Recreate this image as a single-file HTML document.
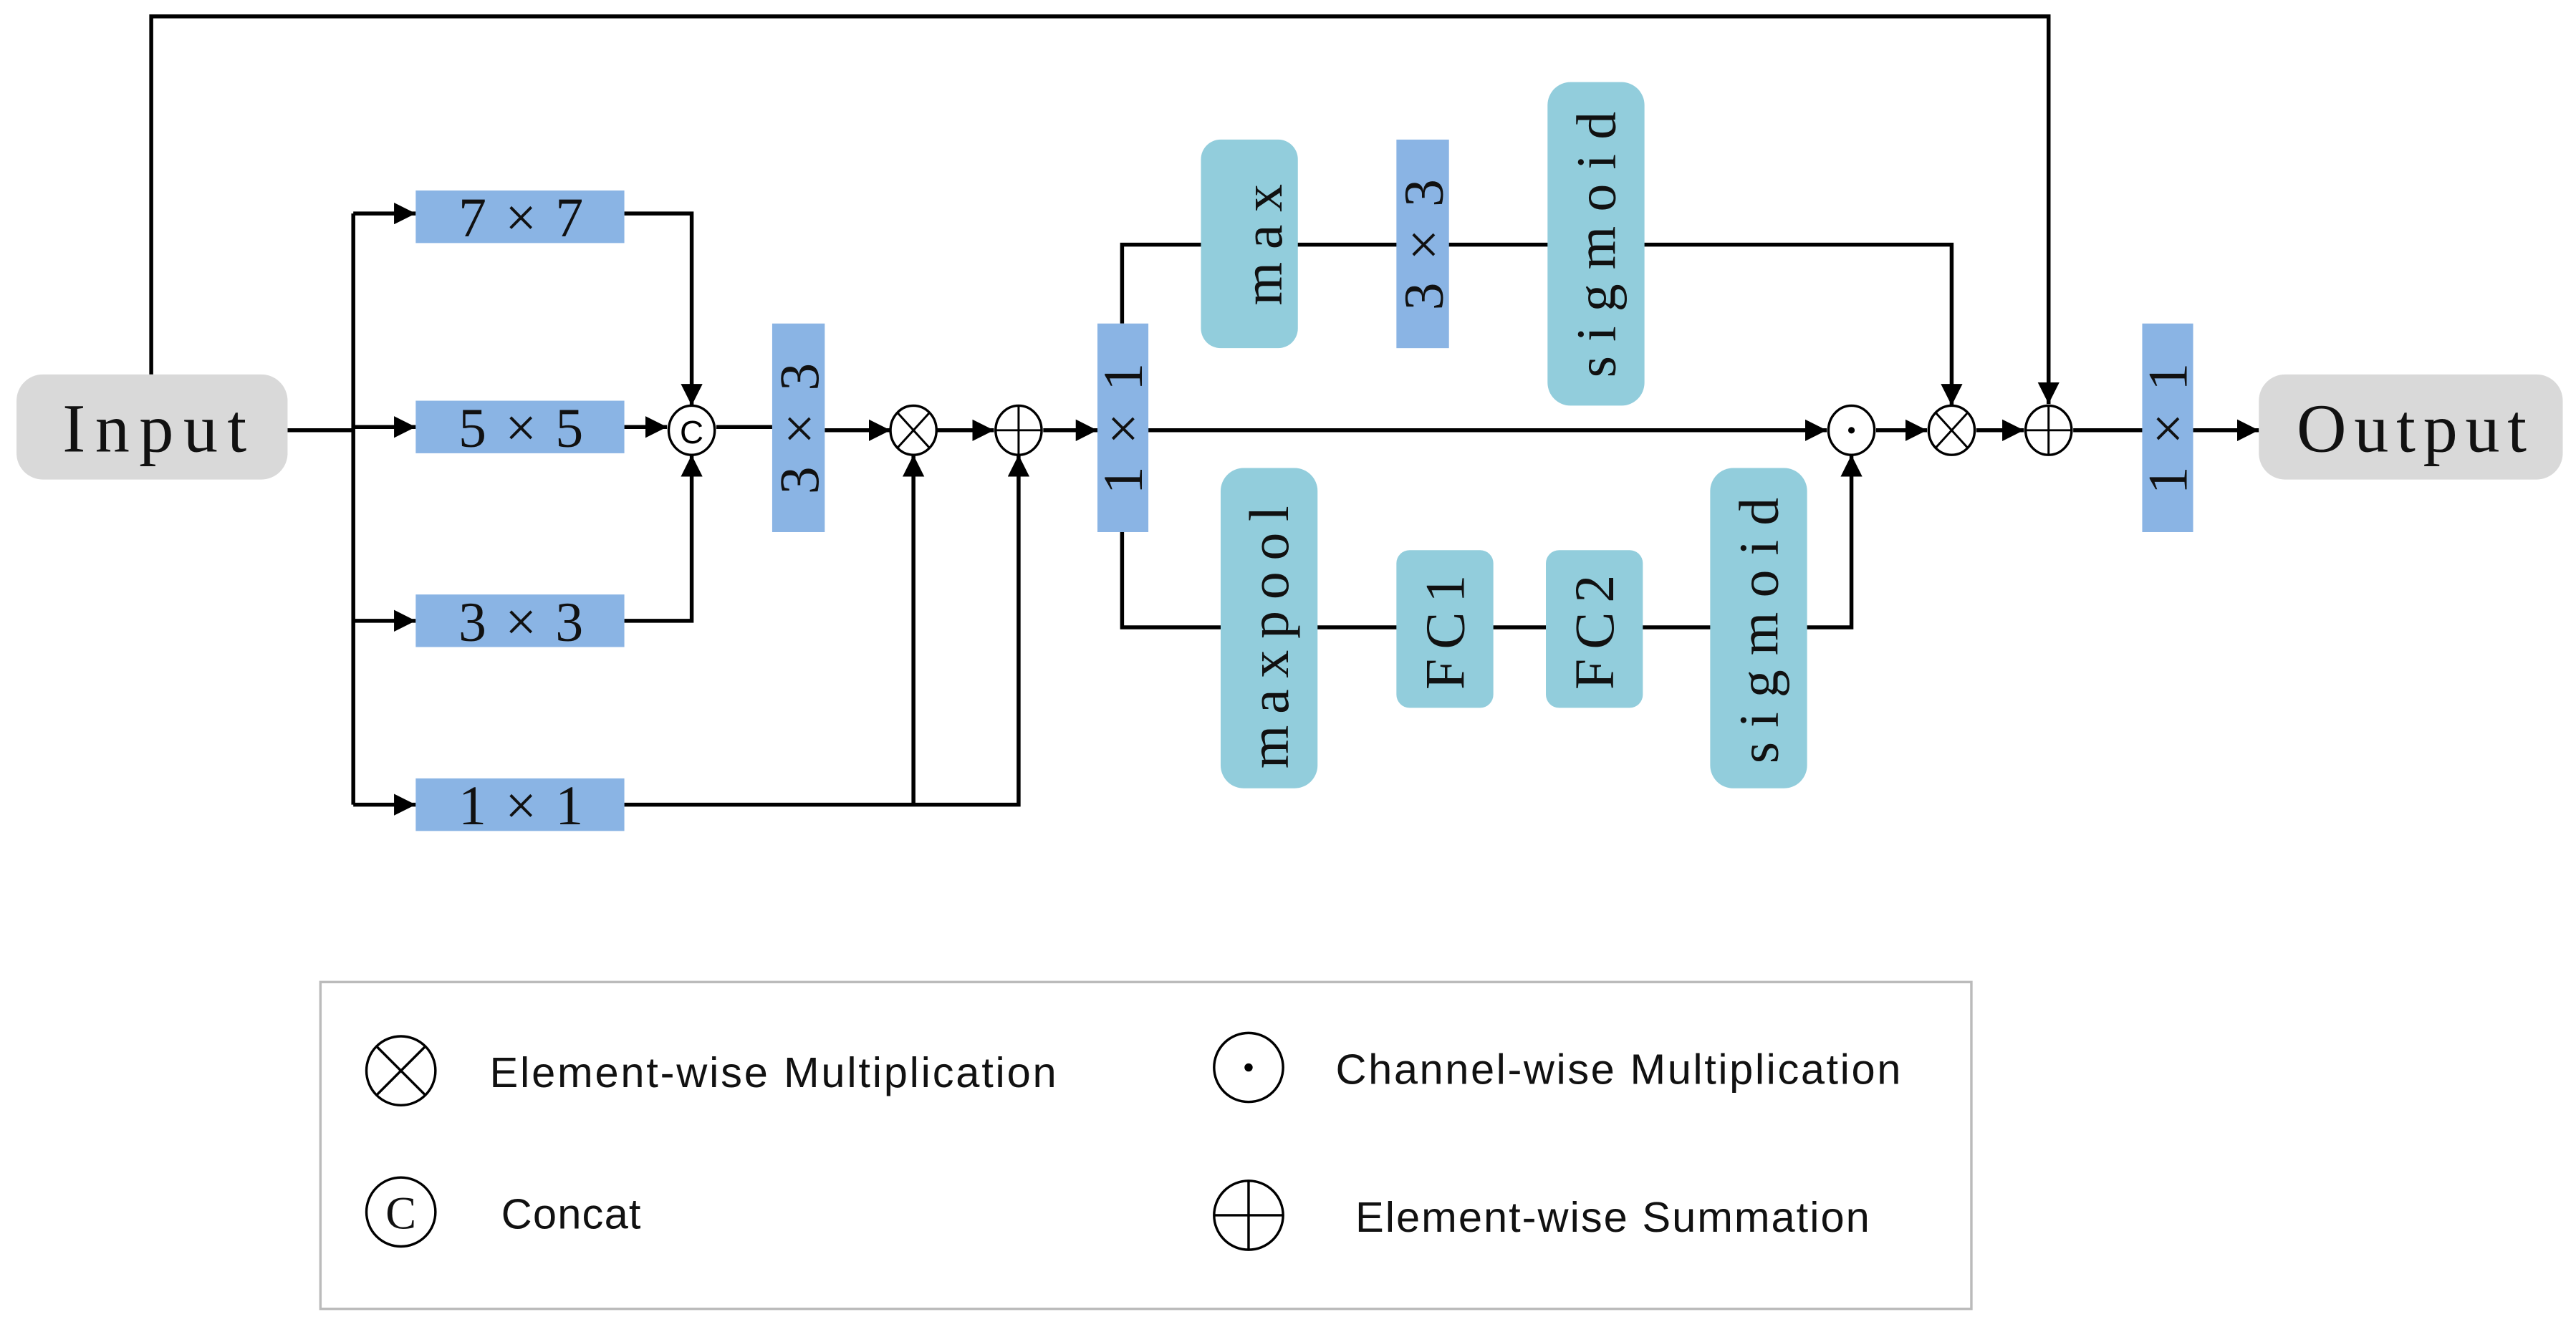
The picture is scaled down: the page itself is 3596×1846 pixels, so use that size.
<!DOCTYPE html>
<html><head><meta charset="utf-8"><style>html,body{margin:0;padding:0;background:#fff}svg{display:block}</style></head>
<body>
<svg width="3596" height="1846" viewBox="0 0 1568 805" xmlns="http://www.w3.org/2000/svg">
<defs>
<marker id="a" viewBox="0 0 10 10" refX="10" refY="5" markerWidth="5.5" markerHeight="5.5" orient="auto" markerUnits="strokeWidth"><path d="M0,0L10,5L0,10z" fill="#000"/></marker>
</defs>
<g fill="none" stroke="#000" stroke-width="2.4">
<path d="M92,228V10H1247V246" marker-end="url(#a)"/>
<path d="M175,262H215"/>
<path d="M215,130V490"/>
<path d="M215,130H253" marker-end="url(#a)"/>
<path d="M215,260H253" marker-end="url(#a)"/>
<path d="M215,378H253" marker-end="url(#a)"/>
<path d="M215,490H253" marker-end="url(#a)"/>
<path d="M380,130H421V247" marker-end="url(#a)"/>
<path d="M380,260H406" marker-end="url(#a)"/>
<path d="M380,378H421V277" marker-end="url(#a)"/>
<path d="M436,260H470"/>
<path d="M502,262H542" marker-end="url(#a)"/>
<path d="M570,262H605" marker-end="url(#a)"/>
<path d="M380,490H620V277" marker-end="url(#a)"/>
<path d="M556,490V277" marker-end="url(#a)"/>
<path d="M635,262H668" marker-end="url(#a)"/>
<path d="M683,197V149H1188V247" marker-end="url(#a)"/>
<path d="M683,324V382H1127V277" marker-end="url(#a)"/>
<path d="M699,262H1112" marker-end="url(#a)"/>
<path d="M1142,262H1173" marker-end="url(#a)"/>
<path d="M1203,262H1232" marker-end="url(#a)"/>
<path d="M1262,262H1304"/>
<path d="M1335,262H1375" marker-end="url(#a)"/>
</g>
<rect x="10" y="228" width="165" height="64" rx="16" fill="#d9d9d9"/>
<rect x="1375" y="228" width="185" height="64" rx="16" fill="#d9d9d9"/>
<g fill="#8ab4e4">
<rect x="253" y="116" width="127" height="32"/>
<rect x="253" y="244" width="127" height="32"/>
<rect x="253" y="362" width="127" height="32"/>
<rect x="253" y="474" width="127" height="32"/>
<rect x="470" y="197" width="32" height="127"/>
<rect x="668" y="197" width="31" height="127"/>
<rect x="850" y="85" width="32" height="127"/>
<rect x="1304" y="197" width="31" height="127"/>
</g>
<g fill="#92cddc">
<rect x="731" y="85" width="59" height="127" rx="12"/>
<rect x="942" y="50" width="59" height="197" rx="14"/>
<rect x="743" y="285" width="59" height="195" rx="14"/>
<rect x="850" y="335" width="59" height="96" rx="8"/>
<rect x="941" y="335" width="59" height="96" rx="8"/>
<rect x="1041" y="285" width="59" height="195" rx="14"/>
</g>
<g fill="#fff" stroke="#000" stroke-width="1.5">
<ellipse cx="421" cy="262" rx="14" ry="15"/>
<ellipse cx="556" cy="262" rx="14" ry="15"/>
<ellipse cx="620" cy="262" rx="14" ry="15"/>
<ellipse cx="1127" cy="262" rx="14" ry="15"/>
<ellipse cx="1188" cy="262" rx="14" ry="15"/>
<ellipse cx="1247" cy="262" rx="14" ry="15"/>
</g>
<g stroke="#000" stroke-width="1.3">
<path d="M546,251L566,273M566,251L546,273M1178,251L1198,273M1198,251L1178,273"/>
<path d="M606,262H634M620,247V277M1233,262H1261M1247,247V277"/>
</g>
<circle cx="1127" cy="262" r="2" fill="#000"/>
<text x="421" y="270" font-family="Liberation Sans,sans-serif" font-size="20" text-anchor="middle">C</text>
<g font-family="Liberation Serif,serif" font-size="34" text-anchor="middle" fill="#111" lengthAdjust="spacing">
<text x="94" y="275" font-size="42" textLength="112">Input</text>
<text x="1468" y="275" font-size="42" textLength="140">Output</text>
<text x="317" y="144" textLength="76">7×7</text>
<text x="317" y="272" textLength="76">5×5</text>
<text x="317" y="390" textLength="76">3×3</text>
<text x="317" y="502" textLength="76">1×1</text>
<text transform="translate(498,261) rotate(-90)" textLength="80">3×3</text>
<text transform="translate(695,261) rotate(-90)" textLength="80">1×1</text>
<text transform="translate(878,149) rotate(-90)" textLength="80">3×3</text>
<text transform="translate(1331,261) rotate(-90)" textLength="80">1×1</text>
<text transform="translate(780,149) rotate(-90)" textLength="74">max</text>
<text transform="translate(983,149) rotate(-90)" textLength="162">sigmoid</text>
<text transform="translate(784,388) rotate(-90)" textLength="160">maxpool</text>
<text transform="translate(891,385) rotate(-90)" textLength="70">FC1</text>
<text transform="translate(982,385) rotate(-90)" textLength="70">FC2</text>
<text transform="translate(1082,384) rotate(-90)" textLength="162">sigmoid</text>
</g>
<rect x="195" y="598" width="1005" height="199" fill="none" stroke="#bbb" stroke-width="1.5"/>
<g fill="none" stroke="#000" stroke-width="1.5">
<circle cx="244" cy="652" r="21"/>
<path d="M229,637L259,667M259,637L229,667"/>
<circle cx="760" cy="650" r="21"/>
<circle cx="244" cy="738" r="21"/>
<circle cx="760" cy="740" r="21"/>
<path d="M739,740H781M760,719V761"/>
</g>
<circle cx="760" cy="650" r="2.5" fill="#000"/>
<g font-family="Liberation Sans,sans-serif" font-size="26" fill="#111" lengthAdjust="spacingAndGlyphs">
<text x="244" y="748" text-anchor="middle" font-family="Liberation Serif,serif" font-size="28">C</text>
<text x="298" y="662" textLength="345">Element-wise Multiplication</text>
<text x="813" y="660" textLength="344">Channel-wise Multiplication</text>
<text x="305" y="748" textLength="85">Concat</text>
<text x="825" y="750" textLength="313">Element-wise Summation</text>
</g>
</svg>
</body></html>
